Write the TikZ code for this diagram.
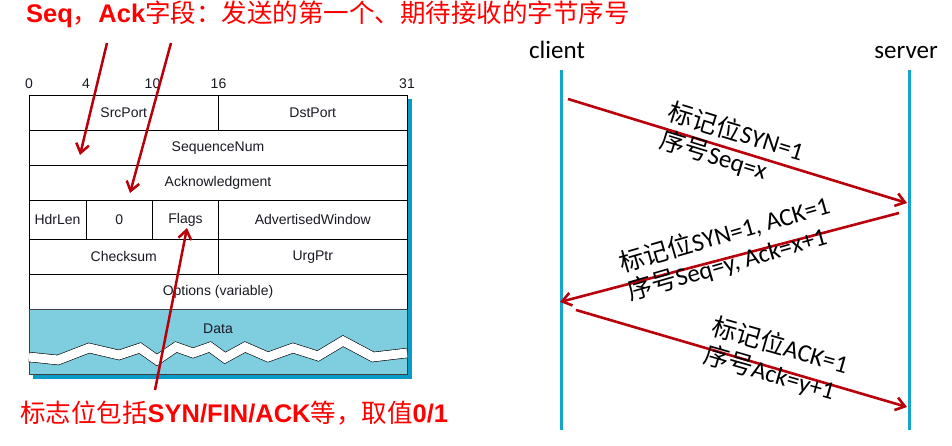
\documentclass[tikz,border=0pt]{standalone}
\usepackage{fontspec}
\setmainfont{Carlito}
\newfontfamily\cjk{Noto Sans CJK SC}
\newfontfamily\arial{Liberation Sans}
\usetikzlibrary{arrows.meta}
\definecolor{titleRed}{RGB}{255,0,0}
\definecolor{arrowRed}{RGB}{185,0,10}
\definecolor{lifeBlue}{RGB}{20,165,205}
\definecolor{dataBlue}{RGB}{126,206,224}
\definecolor{shadowBlue}{RGB}{10,155,200}
\definecolor{cellText}{RGB}{25,25,35}

\begin{document}
\begin{tikzpicture}[
    x=1pt, y=-1pt,
    cell/.style={draw, fill=white, line width=0.8pt, anchor=north west, inner sep=0pt, outer sep=0pt,
        font=\arial\fontsize{14}{16}\selectfont, text=cellText},
    rowHeight/.style={minimum height=35},
    fullWidth/.style={minimum width=378},
    leftWidth/.style={minimum width=189.5},
    rightWidth/.style={minimum width=188.5},
    bitLabel/.style={anchor=base, inner sep=0pt, font=\arial\fontsize{14}{16}\selectfont, text=cellText},
    noteText/.style={anchor=base west, inner sep=0pt, font=\fontsize{25.5}{30}\selectfont, text=titleRed},
    msgText/.style={anchor=center, inner sep=0pt, align=left, font=\fontsize{25}{29}\selectfont},
    redArrow/.style={draw=arrowRed, line width=2.5pt, -{Straight Barb[length=9pt, width=13pt]}},
    lifeline/.style={draw=lifeBlue, line width=3pt},
    zigzag/.style={draw=black, line width=0.6pt, double=white, double distance=9pt}
    ]
    \useasboundingbox (0,0) rectangle (952,446);

    \fill[shadowBlue] (33,99.5) rectangle (411.5,378.5);

    \node[cell, leftWidth, rowHeight] (srcPort) at (29,95.5) {SrcPort};
    \node[cell, rightWidth, rowHeight] (dstPort) at (srcPort.north east) {DstPort};
    \node[cell, fullWidth, rowHeight] (seqNum) at (srcPort.south west) {SequenceNum};
    \node[cell, fullWidth, minimum height=34.8] (ackNum) at (seqNum.south west) {Acknowledgment};
    \node[cell, minimum width=57, minimum height=39.2] (hdrLen) at (ackNum.south west) {HdrLen};
    \node[cell, minimum width=66.5, minimum height=39.2] (zero) at (hdrLen.north east) {0};
    \node[cell, minimum width=66, minimum height=39.2] (flags) at (zero.north east) {Flags};
    \node[cell, rightWidth, minimum height=39.2] (advWindow) at (flags.north east) {AdvertisedWindow};
    \node[cell, leftWidth, minimum height=34.8] (checksum) at (hdrLen.south west) {Checksum};
    \node[cell, rightWidth, minimum height=34.8] (urgPtr) at (checksum.north east) {UrgPtr};
    \node[cell, fullWidth, rowHeight] (options) at (checksum.south west) {Options (variable)};
    \node[cell, fullWidth, minimum height=65.2, fill=dataBlue, draw=black!75] (data) at (options.south west) {};
    \node[bitLabel, anchor=center, yshift=-19pt] (dataLabel) at (data.north) {Data};

    \draw[zigzag] (29,357) -- (58,360) -- (89,348) -- (119,355) -- (140,348) -- (157,360) -- (176,347)
        -- (193,353) -- (210,347) -- (225,358) -- (245,347) -- (268,357) -- (293,348) -- (318,356)
        -- (343,341) -- (373,357) -- (407,353);

    \node[bitLabel, yshift=6.5pt] (bit0) at (srcPort.north west) {0};
    \node[bitLabel, yshift=6.5pt] (bit4) at (hdrLen.east |- srcPort.north) {4};
    \node[bitLabel, yshift=6.5pt] (bit10) at (zero.east |- srcPort.north) {10};
    \node[bitLabel, yshift=6.5pt] (bit16) at (srcPort.north east) {16};
    \node[bitLabel, yshift=6.5pt] (bit31) at (dstPort.north east) {31};

    \node[noteText] (title) at (26,23) {{\arial\bfseries Seq}{\cjk ，}{\arial\bfseries Ack}{\cjk 字段：发送的第一个、期待接收的字节序号}};
    \node[noteText] (flagsNote) at (20,422) {{\cjk 标志位包括}{\arial\bfseries SYN/FIN/ACK}{\cjk 等，取值}{\arial\bfseries 0/1}};

    \coordinate (seqTail) at (107,43);
    \coordinate (seqHead) at (80,155);
    \coordinate (ackTail) at (171,43);
    \coordinate (ackHead) at (130,193);
    \coordinate (flagsTail) at (155,390);
    \coordinate (flagsHead) at (187,228);
    \draw[redArrow] (seqTail) -- (seqHead);
    \draw[redArrow] (ackTail) -- (ackHead);
    \draw[redArrow] (flagsTail) -- (flagsHead);

    \node[msgText, anchor=base] (client) at (557,59) {client};
    \node[msgText, anchor=base] (server) at (906,59) {server};
    \coordinate (clientTop) at (561.5,70);
    \coordinate (clientBot) at (561.5,430);
    \coordinate (serverTop) at (909,70);
    \coordinate (serverBot) at (909,430);
    \draw[lifeline] (clientTop) -- (clientBot);
    \draw[lifeline] (serverTop) -- (serverBot);

    \coordinate (synA) at (568,99);
    \coordinate (synB) at (907,203);
    \coordinate (synAckA) at (899,213);
    \coordinate (synAckB) at (560,302);
    \coordinate (ackA) at (576,310);
    \coordinate (ackB) at (907,407);
    \draw[redArrow, line width=2.6pt] (synA) -- (synB);
    \draw[redArrow, line width=2.6pt] (synAckA) -- (synAckB);
    \draw[redArrow, line width=2.6pt] (ackA) -- (ackB);

    \node[msgText, rotate=-17] (synMsg) at (732,146) {{\cjk 标记位}SYN=1\\{\cjk 序号}Seq=x};
    \node[msgText, rotate=16] (synAckMsg) at (728.5,248.5) {{\cjk 标记位}SYN=1, ACK=1\\{\cjk 序号}Seq=y, Ack=x+1};
    \node[msgText, rotate=-16] (ackMsg) at (776,360) {{\cjk 标记位}ACK=1\\{\cjk 序号}Ack=y+1};
\end{tikzpicture}
\end{document}
